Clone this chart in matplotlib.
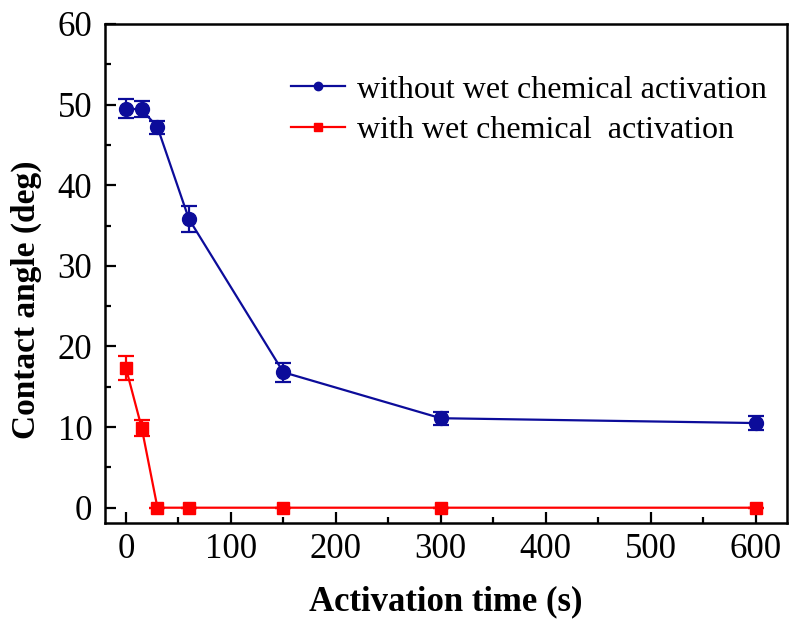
import matplotlib.pyplot as plt
from matplotlib.lines import Line2D
from matplotlib.ticker import MultipleLocator

# activation time (s)
time_s = [0, 15, 30, 60, 150, 300, 600]

# contact angle without wet chemical activation
angle_without = [49.5, 49.4, 47.2, 35.8, 16.8, 11.1, 10.5]
err_without = [1.2, 1.0, 0.8, 1.6, 1.2, 0.8, 0.9]

# contact angle with wet chemical activation
angle_with = [17.3, 9.9, 0, 0, 0, 0, 0]
err_with = [1.5, 1.0, 0, 0, 0, 0, 0]

labels = ["without wet chemical activation", "with wet chemical  activation"]

plt.rcParams['font.family'] = ['Liberation Serif', 'DejaVu Serif']

fig = plt.figure(figsize=(7.99, 6.26), dpi=100)
ax = fig.add_axes([0.1314, 0.1645, 0.8536, 0.7972])

blue = "#0c0c9a"
red = "#ff0000"

ax.errorbar(time_s, angle_without, yerr=err_without, color=blue, marker="o",
            markersize=10, lw=1.6, capsize=6, capthick=1.6, elinewidth=1.6)
ax.errorbar(time_s, angle_with, yerr=err_with, color=red, marker="s",
            markersize=8.5, lw=1.6, capsize=6, capthick=1.6, elinewidth=1.6)

ax.set_xlim(-20, 630)
ax.set_ylim(-1.9, 60)
ax.xaxis.set_major_locator(MultipleLocator(100))
ax.xaxis.set_minor_locator(MultipleLocator(50))
ax.yaxis.set_major_locator(MultipleLocator(10))
ax.yaxis.set_minor_locator(MultipleLocator(5))
ax.tick_params(which="both", direction="in", top=False, right=False,
               labelsize=25, width=1.6)
ax.tick_params(which="major", length=8)
ax.tick_params(axis="y", pad=9)
ax.tick_params(axis="x", pad=7)
ax.tick_params(which="minor", length=4.5)
for s in ax.spines.values():
    s.set_linewidth(1.8)

ax.set_xlabel("Activation time (s)", fontsize=25, fontweight="bold", labelpad=14)
ax.set_ylabel("Contact angle (deg)", fontsize=24, fontweight="bold")
ax.yaxis.set_label_coords(-0.092, 0.447)

handles = [
    Line2D([], [], color=blue, marker="o", markersize=6, lw=1.6),
    Line2D([], [], color=red, marker="s", markersize=5.5, lw=1.6),
]
ax.legend(handles, labels, loc="upper right", bbox_to_anchor=(1.012, 0.955),
          frameon=False, fontsize=23, handlelength=1.7,
          handletextpad=0.35, labelspacing=0.35)

plt.savefig("out.png", dpi=100)
